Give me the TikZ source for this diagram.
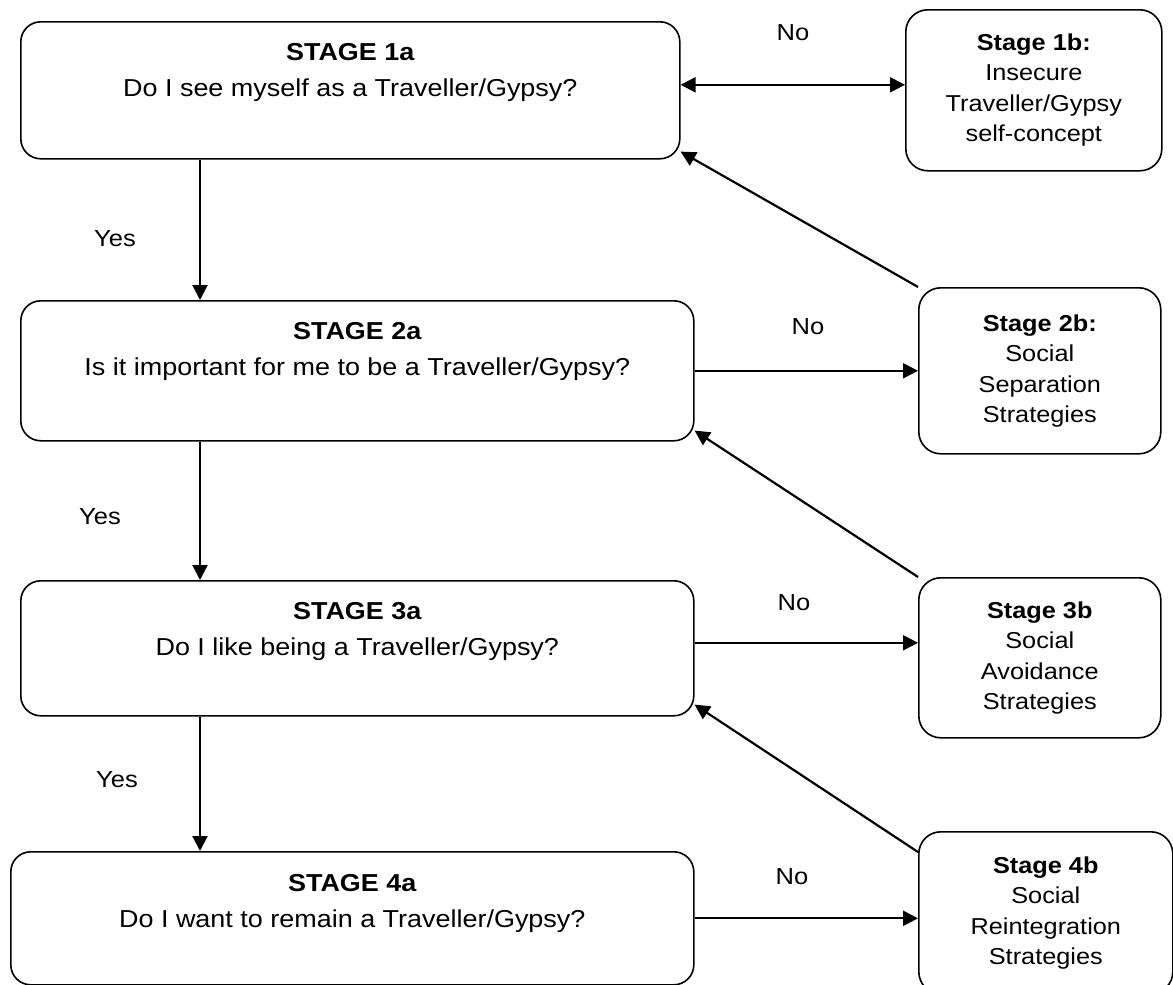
\documentclass[tikz,border=0pt]{standalone}
\usepackage{fontspec}
\setmainfont{Liberation Sans}[FakeStretch=1.1]
\usetikzlibrary{arrows.meta,positioning}

\begin{document}
\begin{tikzpicture}[
    x=0.5pt, y=-0.5pt,
    >={Triangle[length=7.5pt,width=7.5pt]},
    abox/.style={rectangle, draw=black, line width=0.8pt, rounded corners=10pt, anchor=north west, inner sep=0pt},
    atext/.style={font=\fontsize{12.25pt}{18pt}\selectfont, align=center, inner sep=0pt},
    bbox/.style={rectangle, draw=black, line width=0.8pt, rounded corners=11pt, anchor=north west, inner sep=0pt, align=center, font=\fontsize{11.5pt}{15.25pt}\selectfont},
    lbl/.style={font=\fontsize{11.6pt}{14pt}\selectfont, inner sep=0pt},
    arrow/.style={->, line width=1.1pt}
]
    \useasboundingbox (0,0) rectangle (1173,985);

    % question boxes (left)
    \node (a1) [abox, minimum width=329.5pt, minimum height=68.5pt] at (20,21) {};
    \node (a2) [abox, minimum width=336.5pt, minimum height=70pt] at (20,300) {};
    \node (a3) [abox, minimum width=336.5pt, minimum height=67.5pt] at (20,580) {};
    \node (a4) [abox, minimum width=341.5pt, minimum height=66.5pt] at (10,851) {};

    \node (t1) [atext, below=11pt of a1.north] {\textbf{STAGE 1a}\\Do I see myself as a Traveller/Gypsy?};
    \node (t2) [atext, below=11pt of a2.north] {\textbf{STAGE 2a}\\Is it important for me to be a Traveller/Gypsy?};
    \node (t3) [atext, below=11pt of a3.north] {\textbf{STAGE 3a}\\Do I like being a Traveller/Gypsy?};
    \node (t4) [atext, below=11.5pt of a4.north] {\textbf{STAGE 4a}\\Do I want to remain a Traveller/Gypsy?};

    % strategy boxes (right)
    \node (b1) [bbox, minimum width=128pt, minimum height=80.5pt] at (905,9) {\textbf{Stage 1b:}\\Insecure\\Traveller/Gypsy\\self-concept};
    \node (b2) [bbox, minimum width=121pt, minimum height=83pt] at (918,287) {\textbf{Stage 2b:}\\Social\\Separation\\Strategies};
    \node (b3) [bbox, minimum width=121pt, minimum height=80pt] at (918,577) {\textbf{Stage 3b}\\Social\\Avoidance\\Strategies};
    \node (b4) [bbox, minimum width=127pt, minimum height=81pt] at (918,831) {\textbf{Stage 4b}\\Social\\Reintegration\\Strategies};

    % yes
    \foreach \i/\j in {1/2,2/3,3/4} {
        \coordinate (d\i) at ([xshift=90pt]a\i.south west);
        \draw [arrow] (d\i) -- (d\i |- a\j.north);
    }
    \node (y1) [lbl] at (115,239) {Yes};
    \node (y2) [lbl] at (100,517) {Yes};
    \node (y3) [lbl] at (117,780) {Yes};

    % no
    \draw [arrow, <->] ([yshift=2.75pt]a1.east) -- ([yshift=2.75pt]a1.east -| b1.west);
    \draw [arrow] (a2.east) -- (a2.east -| b2.west);
    \draw [arrow] ([yshift=2.75pt]a3.east) -- ([yshift=2.75pt]a3.east -| b3.west);
    \draw [arrow] (a4.east) -- (a4.east -| b4.west);
    \node (n1) [lbl] at (793,33) {No};
    \node (n2) [lbl] at (808,327) {No};
    \node (n3) [lbl] at (794,603) {No};
    \node (n4) [lbl] at (792,877) {No};

    % back to previous stage
    \draw [arrow] (b2.north west) -- ([yshift=4pt]a1.south east);
    \draw [arrow] (b3.north west) -- ([yshift=5.5pt]a2.south east);
    \draw [arrow] ([yshift=-10.5pt]b4.north west) -- ([yshift=6pt]a3.south east);
\end{tikzpicture}
\end{document}
